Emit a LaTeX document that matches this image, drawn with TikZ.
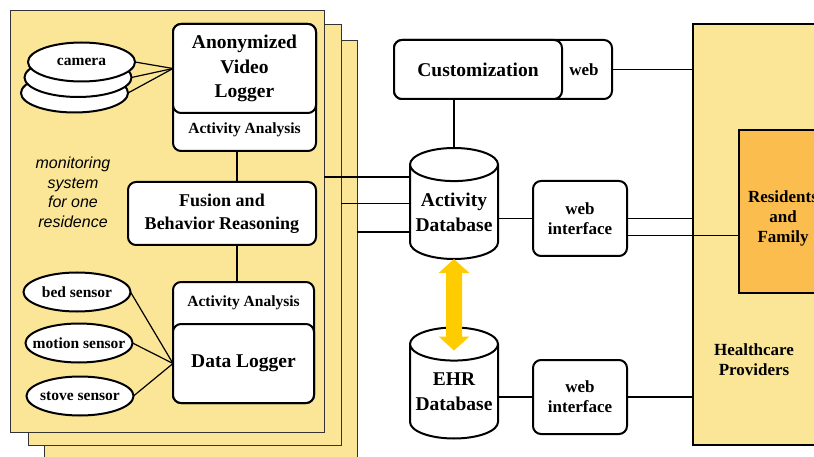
\documentclass[tikz,border=0pt]{standalone}
\usepackage{fontspec}
\setmainfont{Liberation Serif}
\newfontfamily\notefont{Liberation Sans}
\usetikzlibrary{arrows.meta,shapes.geometric}

\definecolor{panelfill}{RGB}{250,230,150}
\definecolor{peoplefill}{RGB}{251,189,78}
\definecolor{linkyellow}{RGB}{255,204,0}

\begin{document}
\begin{tikzpicture}[x=1pt,y=-1pt,
  panel/.style = {rectangle,draw=black!80,fill=panelfill,line width=0.9pt,outer sep=0pt},
  rbox/.style = {rectangle,draw,fill=white,rounded corners=8pt,line width=2pt,inner sep=0pt,outer sep=0pt,align=center},
  sensor/.style = {ellipse,draw,fill=white,line width=2pt,minimum width=107pt,minimum height=39pt,inner sep=0pt,outer sep=0pt},
  db/.style = {cylinder,shape border rotate=90,aspect=0.43,draw,fill=white,line width=2pt,minimum width=88pt,minimum height=111pt,inner sep=0pt,outer sep=0pt,align=center,anchor=shape center,bigtext},
  wire/.style = {line width=1.4pt},
  bigtext/.style = {font=\fontsize{19.5}{24.5}\selectfont\bfseries},
  fusiontext/.style = {font=\fontsize{18}{23}\selectfont\bfseries},
  smalltext/.style = {font=\fontsize{15.5}{18}\selectfont\bfseries},
  midtext/.style = {font=\fontsize{17}{20}\selectfont\bfseries}]
\useasboundingbox (0,0) rectangle (814,457);
\clip (0,0) rectangle (814,457);

% stacked residences
\node[panel,minimum width=313pt,minimum height=440pt] (panelC) at (200.5,260) {};
\node[panel,minimum width=313pt,minimum height=421pt] (panelB) at (184.5,234.5) {};
\node[panel,minimum width=314pt,minimum height=422pt] (panelA) at (167,221) {};

% cameras
\foreach \cx/\cy [count=\k] in {74.5/93, 78/77.5}
    \node[sensor] (cam\k) at (\cx,\cy) {};
\node[sensor,label={[smalltext]center:camera}] (cam3) at (81.5,62) {};

\node[rbox,minimum width=143pt,minimum height=127pt,
      label={[smalltext,anchor=center,yshift=21pt]south:Activity Analysis}] (aa1) at (244.5,87.5) {};
\node[rbox,bigtext,minimum width=143pt,minimum height=89pt] (avl) at (244.5,68.5) {Anonymized\\Video\\Logger};
\foreach \c in {cam1,cam2,cam3}
    \draw[line width=1.2pt] (\c.east) -- (avl.west);

\node[rbox,fusiontext,minimum width=188pt,minimum height=63pt] (fusion) at (222,213.5) {Fusion and\\Behavior Reasoning};
\node[font=\notefont\itshape\fontsize{16}{19.5}\selectfont,align=center] (note) at (73,192.5) {monitoring\\system\\for one\\residence};

\node[rbox,minimum width=141pt,minimum height=121pt,
      label={[smalltext,anchor=center,yshift=-21pt]north:Activity Analysis}] (aa2) at (243.5,342.5) {};
\node[rbox,bigtext,minimum width=141pt,minimum height=79pt] (dlog) at (243.5,363.5) {Data Logger};

% sensors
\node[sensor,label={[smalltext]center:bed sensor}] (bed) at (77,292) {};
\node[sensor,label={[smalltext]center:motion sensor}] (motion) at (79,343) {};
\node[sensor,label={[smalltext]center:stove sensor}] (stove) at (80,396) {};
\foreach \s in {bed,motion,stove}
    \draw[line width=1.2pt] (\s.east) -- (dlog.west);

\draw[wire] ([xshift=-7.5pt]aa1.south) -- ([xshift=-7.5pt]aa1.south |- fusion.north);
\draw[wire] ([xshift=15pt]fusion.south) -- ([xshift=15pt]fusion.south |- aa2.north);

% databases and web side
\node[rbox,minimum width=218pt,minimum height=59pt,
      label={[midtext,anchor=center,xshift=-28pt]east:web}] (webc) at (503,69.5) {};
\node[rbox,bigtext,minimum width=168pt,minimum height=59pt] (cust) at (478,69.5) {Customization};
\node[db] (actdb) at (454,203.5) {Activity\\Database};
\node[db] (ehrdb) at (454,383) {EHR\\Database};
\node[rbox,midtext,minimum width=94pt,minimum height=75pt] (web1) at (580,218.5) {web\\interface};
\node[rbox,midtext,minimum width=94pt,minimum height=74pt] (web2) at (580,397) {web\\interface};

\node[rectangle,draw,line width=1.8pt,fill=panelfill,minimum width=200pt,minimum height=421pt,
      label={[midtext,align=center,anchor=center,xshift=-39pt,yshift=-125.5pt]center:Healthcare\\Providers}] (hcp) at (793,234.5) {};
\node[rectangle,draw,line width=1.2pt,fill=peoplefill,minimum width=88pt,minimum height=163pt,
      label={[midtext,align=center,anchor=center,yshift=-7pt]center:Residents\\and\\Family}] (res) at (783,211.5) {};

\draw[wire] (actdb.north) -- (actdb.north |- cust.south);
\draw[wire] (webc.east) -- (webc.east -| hcp.west);
\draw[wire] (actdb.east |- web1.west) -- (web1.west);
\draw[wire] (web1.east) -- (web1.east -| hcp.west);
\draw[wire] ([yshift=-17pt]web1.east) -- ([yshift=-17pt]web1.east -| res.west);
\draw[wire] (ehrdb.east |- web2.west) -- (web2.west);
\draw[wire] (web2.east) -- (web2.east -| hcp.west);
% one line per residence into the database
\draw[wire] ([yshift=26.5pt]actdb.west |- actdb.shape center) -- ([yshift=26.5pt]panelA.east |- actdb.shape center);
\draw[wire] (actdb.west |- actdb.shape center) -- (panelB.east |- actdb.shape center);
\draw[wire] ([yshift=-28.5pt]actdb.west |- actdb.shape center) -- ([yshift=-28.5pt]panelC.east |- actdb.shape center);

\draw[linkyellow,line width=16pt,{Triangle[width=30pt,length=14pt]}-{Triangle[width=30pt,length=14pt]}]
    (actdb.south) -- ([yshift=-23pt]ehrdb.north);
\end{tikzpicture}
\end{document}
